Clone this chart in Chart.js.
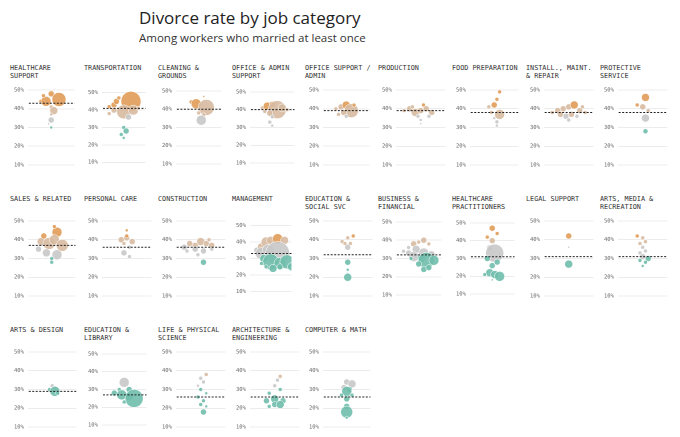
<!DOCTYPE html>
<html><head><meta charset="utf-8">
<script src="https://cdn.jsdelivr.net/npm/chart.js@4"></script>
<style>
body{margin:0;background:#fff;width:680px;height:437px;overflow:hidden;position:relative;font-family:"DejaVu Sans Mono",monospace}
h1{position:absolute;left:139px;top:6px;margin:0;font:400 17px "Open Sans",sans-serif;color:#222}
h2{position:absolute;left:139px;top:30px;margin:0;font:400 11.5px "Open Sans",sans-serif;color:#333}
.panel{position:absolute;width:74px;height:125px}
.t{position:absolute;left:0;top:0;width:70px;font-size:6.8px;line-height:8px;color:#333;text-transform:uppercase;letter-spacing:0}
canvas{position:absolute;left:0;top:13px}
</style></head><body>
<h1>Divorce rate by job category</h1>
<h2>Among workers who married at least once</h2>
<script>
const TITLES = ['Healthcare support','Transportation','Cleaning & grounds','Office & admin support','Office support / admin','Production','Food preparation','Install., maint. & repair','Protective service',
  'Sales & related','Personal care','Construction','Management','Education & social svc','Business & financial','Healthcare practitioners','Legal support','Arts, media & recreation',
  'Arts & design','Education & library','Life & physical science','Architecture & engineering','Computer & math'];
const MEANS = [43,41,40,40,39,39,38,38,38, 37,36,36,33,32,32,31,31,31, 29,27,26,26,26];
const TICKS = [10,20,30,40,50];
// each point: [horizontal position 0-10, divorce rate %, bubble radius px]
const POINTS = [
 [[3,44,2],[4,44,5],[5,48,3],[6.5,45,7],[3.5,47,2],[5,41,2],[5.5,39,4],[5,37,1.5],[5,34,3],[4.5,32,1],[5,30,1.5]],
 [[2,42,2],[3,43,3],[3.5,45,3],[4,47,2],[6.5,45,10],[3,40,3],[5,39,7],[7,40,5],[8,41,2],[2,38,2],[6,36,3],[5,30,2],[5.5,28,3],[4.5,26,2],[5,24,1.5]],
 [[3.5,44,2],[4.5,43,5],[6.5,41,8],[5,38,2],[6,37,2],[5,35,1.5],[5.5,34,5],[6,47,1]],
 [[3,41,2],[4,42,4],[5,43,3],[6,40,9],[7,41,4],[8,40,2],[4.5,38,3],[3.5,39,2],[5,36,2],[4.5,33,2],[5,31,1.5]],
 [[3,40,2],[4,41,3],[5,42,4],[6,39,7],[4.5,38,3],[3.5,37,2],[5,36,2],[6.5,42,2]],
 [[2,39,2],[3,40,3],[4,38,4],[5,39,3],[6,40,3],[7,38,3],[3.5,41,2],[5.5,42,2],[6.5,36,2],[4.5,36,2],[5,34,1.5],[5,32,1]],
 [[4,41,2],[5,42,3],[5.5,45,2],[6,49,2],[4.5,38,2],[6,37,5],[5,35,1.5],[5.5,33,2],[5.5,31,1.5]],
 [[2,38,2],[3,39,3],[4,40,3],[5,41,3],[6,42,4],[7,39,3],[3.5,37,3],[4.5,36,3],[5.5,37,3],[6.5,36,2],[5,34,2],[8,38,2],[7.5,41,2]],
 [[4,42,2],[5.5,46,4],[5,41,3],[6,39,2],[5.5,35,4],[5.5,28,2.5]],
 [[3,39,4],[4.5,38,6],[6,44,5],[5.5,40,5],[7,37,6],[2.5,35,3],[4,33,4],[6,32,5],[5,30,2],[5,28,2],[3.5,42,3],[5.5,47,2]],
 [[4,40,3],[5,41,3],[6,39,3],[4.5,38,2],[5,42,2],[5.5,36,2],[4.5,33,3],[5.5,31,2],[5,45,1.5]],
 [[2,36,3],[3,38,3],[4,37,3],[5,39,4],[6,38,3],[7,37,3],[2.5,34,2],[4,35,3],[5.5,34,3],[7,35,2],[4.5,32,2],[5.5,28,3],[6.5,40,2]],
 [[2,35,3],[3,37,4],[4,40,5],[5,41,4],[6.5,42,5],[8,41,4],[3,33,6],[4.5,35,6],[6.5,33,12],[3.5,30,4],[5,28,8],[7,27,6],[8.5,28,7],[4,25,2],[5.5,24,4],[7,25,3],[9.5,25,4],[3,27,2]],
 [[4,39,2],[5,41,2],[6,42,2],[4.5,38,2],[5,36,3],[5.5,38,2],[5,28,3],[5,24,1.5],[5,22,1],[5,20,4]],
 [[2,34,2],[3,36,2],[4,38,3],[5,39,2],[6,40,3],[7,38,2],[3,33,3],[4.5,35,4],[6,33,5],[7.5,32,4],[4,31,5],[5.5,30,4],[6.5,29,8],[8,29,5],[5,27,3],[6,24,3],[7,25,3],[3.5,30,2]],
 [[5,47,3],[4,42,2],[6,44,2],[5,40,3],[4.5,36,3],[5.5,33,9],[4,30,3],[6,28,3],[5,26,3],[4.5,22,4],[5.5,21,4],[6.5,20,5],[3.5,21,2],[5,18,1]],
 [[5,42,3],[5,36,1],[5,27,4]],
 [[4,42,2],[5,41,2],[5.5,39,2],[4.5,38,2],[5,36,2],[5.5,34,2],[4.5,33,2],[5,31,3],[6,30,3],[5.5,28,2],[4.5,29,2],[5,26,1.5]],
 [[5,32,2],[5.5,31,2],[4.5,30,2],[5.5,29,5],[6,28,2]],
 [[5,34,5],[4,30,2],[6,30,3],[3,28,3],[4.5,27,5],[6,26,4],[7,25,9],[5,23,2]],
 [[6,38,2],[5,36,2],[5.5,34,2],[4.5,32,1.5],[5,30,2],[6,28,1.5],[4.5,26,2],[5.5,24,2],[5,22,2],[6,21,1.5],[5.5,18,3]],
 [[6,37,2],[5.5,35,2],[5,32,2],[6,30,2],[4,28,2],[5,25,4],[3.5,24,3],[6.5,24,3],[5,22,3],[6,22,4],[4,21,2]],
 [[5,34,3],[6,33,4],[4.5,31,3],[5.5,30,3],[5,29,5],[4,27,2],[6,27,2],[5,25,3],[5,21,3],[5,18,6],[5,15,1.5]]
];
const COLX = [10,84,158,232,305,378,452,526,600];
const ROWY = [64,195,326];

function colorFor(v) {
  if (v >= 42) return 'rgba(224,156,88,0.9)';
  if (v >= 37) return 'rgba(215,186,160,0.9)';
  if (v >= 31) return 'rgba(200,200,200,0.9)';
  return 'rgba(112,190,172,0.9)';
}

TITLES.forEach((title, i) => {
  const div = document.createElement('div');
  div.className = 'panel';
  div.style.left = COLX[i % 9] + 'px';
  div.style.top = ROWY[Math.floor(i / 9)] + 'px';
  div.innerHTML = '<div class="t">' + title + '</div><canvas width="72" height="101" style="width:72px;height:101px"></canvas>';
  document.body.appendChild(div);
  const m = MEANS[i];
  const pts = POINTS[i].map(p => ({x: p[0], y: p[1], r: p[2]}));
  new Chart(div.querySelector('canvas'), {
    type: 'bubble',
    data: {
      datasets: [
        {
          type: 'line', data: [{x: 0, y: m}, {x: 10, y: m}],
          borderColor: '#222', borderWidth: 1, borderDash: [2, 1.5], pointRadius: 0, order: 0
        },
        {
          data: pts,
          backgroundColor: pts.map(p => colorFor(p.y)),
          borderColor: '#fff', borderWidth: 0.5, order: 1
        }
      ]
    },
    options: {
      responsive: false, animation: false, devicePixelRatio: 2,
      layout: {padding: {left: 0, right: 2, top: 0, bottom: 0}},
      plugins: {legend: {display: false}, tooltip: {enabled: false}},
      scales: {
        x: {type: 'linear', min: 0.5, max: 9.5, display: false},
        y: {
          min: 7, max: 53, afterBuildTicks: s => { s.ticks = TICKS.map(v => ({value: v})); },
          border: {display: false},
          grid: {color: '#e6e6e6', lineWidth: 0.8, drawTicks: false},
          ticks: {font: {family: 'DejaVu Sans Mono', size: 5.5}, color: '#666', padding: 4, callback: v => v + '%'}
        }
      }
    }
  });
});
</script>
</body></html>
